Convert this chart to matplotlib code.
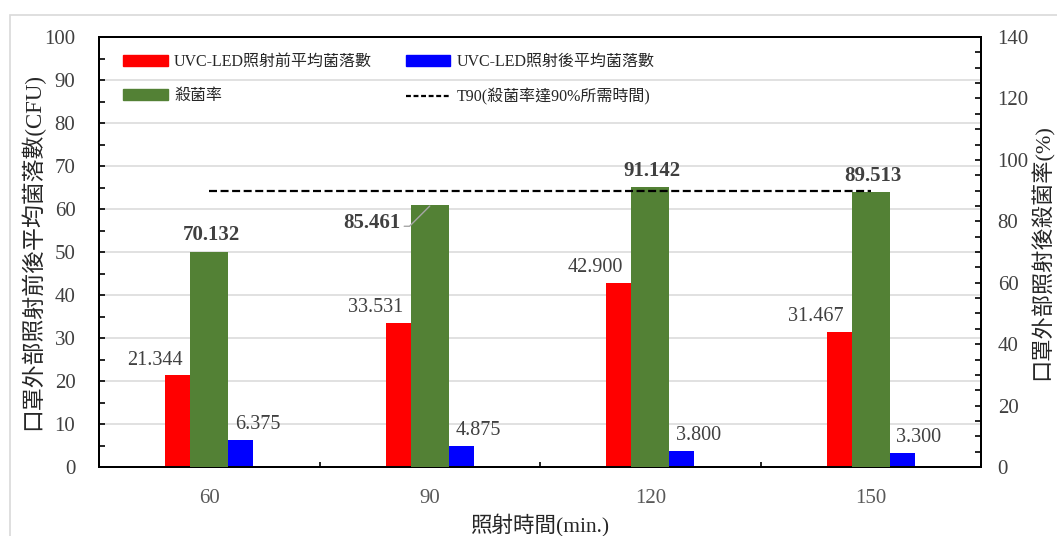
import numpy as np
import matplotlib
matplotlib.use("Agg")
import matplotlib.pyplot as plt
from matplotlib.patches import Rectangle, Patch
from matplotlib.lines import Line2D
from matplotlib.ticker import MultipleLocator, FixedLocator

plt.rcParams['font.family'] = ['Liberation Serif', 'Noto Sans CJK TC']

# ---- data ----
categories = ['60', '90', '120', '150']
before_counts = [21.344, 33.531, 42.900, 31.467]
after_counts = [6.375, 4.875, 3.800, 3.300]
kill_rate = [70.132, 85.461, 91.142, 89.513]
t90_level = [90, 90, 90, 90]

labels = {
    'before': 'UVC-LED照射前平均菌落數',
    'after': 'UVC-LED照射後平均菌落數',
    'rate': '殺菌率',
    't90': 'T90(殺菌率達90%所需時間)',
}

RED = '#FF0000'
BLUE = '#0000FF'
GREEN = '#538135'
GRID = '#d9d9d9'
TXT = '#404040'

W, H = 1057, 536
fig = plt.figure(figsize=(W / 100, H / 100), dpi=100)
ax = fig.add_axes([99 / W, 1 - 467 / H, 882 / W, 430 / H])
ax2 = ax.twinx()

x = np.arange(len(categories))
off = 0.143
bw_side = 0.113
bw_mid = 0.172

ax.bar(x - off, before_counts, width=bw_side, color=RED, zorder=3)
ax.bar(x + off, after_counts, width=bw_side, color=BLUE, zorder=3)
ax2.bar(x, kill_rate, width=bw_mid, color=GREEN, zorder=3)
ax2.plot(x, t90_level, color='black', lw=1.6, dashes=(3.6, 1.6), zorder=4)

# ---- axes ----
ax.set_xlim(-0.5, 3.5)
ax.set_ylim(0, 100)
ax2.set_ylim(0, 140)

ax.yaxis.set_major_locator(MultipleLocator(10))
ax.yaxis.set_minor_locator(MultipleLocator(5))
ax2.yaxis.set_major_locator(MultipleLocator(20))
ax2.yaxis.set_minor_locator(MultipleLocator(5))

ax.set_xticks(x)
ax.set_xticklabels(categories)
ax.xaxis.set_minor_locator(FixedLocator([0.5, 1.5, 2.5]))

ax.grid(axis='y', which='major', color=GRID, lw=1.1, zorder=0)
ax.set_axisbelow(True)

for a in (ax, ax2):
    for s in a.spines.values():
        s.set_color('black')
        s.set_linewidth(1.4)

ax.tick_params(axis='y', which='both', direction='in', length=4.5, width=1.2,
               labelsize=15, labelcolor=TXT, pad=17, right=False)
ax.tick_params(axis='x', which='both', direction='in', length=3.5, width=1.2,
               labelsize=15, labelcolor='#595959', pad=16, top=False)
ax2.tick_params(axis='y', which='both', direction='in', length=4.5, width=1.2,
                labelsize=15, labelcolor=TXT, pad=12)

ax.set_ylabel('口罩外部照射前後平均菌落數(CFU)', fontsize=16.5, color='#262626')
ax.yaxis.set_label_coords(-0.062, 0.5)
ax2.set_ylabel('口罩外部照射後殺菌率(%)', fontsize=16, color='#262626', rotation=90)
ax2.yaxis.set_label_coords(1.056, 0.5)
ax.set_xlabel('照射時間(min.)', fontsize=15.5, color='#262626')
ax.xaxis.set_label_coords(0.5, -0.108)

# ---- value labels ----
for xi, v in zip(x, before_counts):
    ax.annotate(f'{v:.3f}', (xi - off, v), xytext=(-16.5, 4), textcoords='offset points',
                ha='center', va='bottom', fontsize=14.5, color=TXT, zorder=5)
for xi, v in zip(x, after_counts):
    ax.annotate(f'{v:.3f}', (xi + off, v), xytext=(12, 4), textcoords='offset points',
                ha='center', va='bottom', fontsize=14.5, color=TXT, zorder=5)
for xi, v in zip(x, kill_rate):
    if xi == 1:
        ax2.annotate(f'{v:.3f}', (xi, v - 0.5), xytext=(-42, -16), textcoords='offset points',
                     ha='center', va='baseline', fontsize=15, fontweight='bold', color=TXT,
                     zorder=5,
                     arrowprops=dict(arrowstyle='-', color='#a6a6a6', lw=1.0,
                                     shrinkA=1, shrinkB=0, relpos=(1.0, 0.35),
                                     connectionstyle='angle,angleA=0,angleB=45,rad=0'))
    else:
        ax2.annotate(f'{v:.3f}', (xi, v), xytext=(1.5, 4.5), textcoords='offset points',
                     ha='center', va='bottom', fontsize=15, fontweight='bold', color=TXT,
                     zorder=5)

# ---- legend ----
handles = [
    Patch(color=RED),
    Patch(color=GREEN),
    Patch(color=BLUE),
    Line2D([0], [0], color='black', lw=1.6, dashes=(2.2, 1.2)),
]
leg_labels = [labels['before'], labels['rate'], labels['after'], labels['t90']]
ax2.legend(handles, leg_labels, ncol=2, loc='upper left',
           bbox_to_anchor=(24 / 882, 1 - 17 / 430), frameon=False, fontsize=11.5,
           handlelength=2.8, handletextpad=0.4, columnspacing=2.1,
           labelspacing=1.15, borderpad=0, borderaxespad=0, labelcolor='#262626')

# outer chart-area border
fig.patches.append(Rectangle((10 / W, -0.05), 1.2, 1 - 15 / H + 0.05,
                             transform=fig.transFigure, fill=False,
                             ec=GRID, lw=1.2))

fig.savefig('out.png', dpi=100)
